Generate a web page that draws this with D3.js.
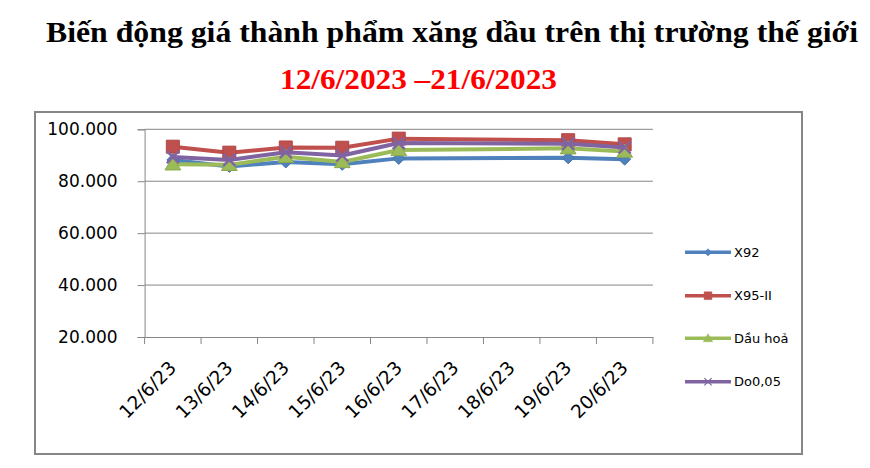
<!DOCTYPE html>
<html><head><meta charset="utf-8">
<script src="https://cdn.jsdelivr.net/npm/d3@7/dist/d3.min.js"></script>
<style>body{margin:0;background:#fff}svg{display:block}</style>
</head><body>
<svg id="c" width="870" height="468"></svg>
<script>
const categories = ["12/6/23","13/6/23","14/6/23","15/6/23","16/6/23","17/6/23","18/6/23","19/6/23","20/6/23"];
const x92   = [88.2, 85.7, 87.4, 86.5, 88.8, null, null, 89.0, 88.5];
const x95   = [93.3, 91.0, 93.0, 92.9, 96.4, null, null, 95.8, 94.2];
const dauHoa= [86.5, 86.3, 89.4, 87.4, 92.0, null, null, 92.7, 91.4];
const do005 = [89.3, 88.2, 91.2, 89.9, 94.7, null, null, 94.4, 93.0];
const yTicks = [20, 40, 60, 80, 100];
const yTickLabels = ["20.000","40.000","60.000","80.000","100.000"];
const seriesNames = ["X92","X95-II","Dầu hoả","Do0,05"];
const title = "Biến động giá thành phẩm xăng dầu trên thị trường thế giới";
const subtitle = "12/6/2023 –21/6/2023";

const series = [
  {name: seriesNames[0], values: x92,    color: "#4F81BD", marker: "diamond"},
  {name: seriesNames[1], values: x95,    color: "#C0504D", marker: "square"},
  {name: seriesNames[2], values: dauHoa, color: "#9BBB59", marker: "triangle"},
  {name: seriesNames[3], values: do005,  color: "#8064A2", marker: "cross"}
];

const svg = d3.select("#c");
const grid = "#868686";
const AX = "DejaVu Sans, sans-serif";

// titles
svg.append("text").attr("x", 46).attr("y", 42)
  .attr("font-family", "Liberation Serif, Times New Roman, serif")
  .attr("font-weight", "bold").attr("font-size", 29)
  .attr("textLength", 812).attr("lengthAdjust", "spacingAndGlyphs")
  .attr("fill", "#000").text(title);
svg.append("text").attr("x", 280).attr("y", 89)
  .attr("font-family", "Liberation Serif, Times New Roman, serif")
  .attr("font-weight", "bold").attr("font-size", 29)
  .attr("textLength", 277).attr("lengthAdjust", "spacingAndGlyphs")
  .attr("fill", "#FF0000").text(subtitle);

// chart border
svg.append("rect").attr("x", 35).attr("y", 112).attr("width", 767).attr("height", 342)
  .attr("fill", "none").attr("stroke", grid).attr("stroke-width", 2);

const x = d3.scaleBand().domain(categories).range([144.6, 652.9]).padding(0);
const y = d3.scaleLinear().domain([20, 100]).range([337, 129.3]);

// gridlines
svg.append("g").selectAll("line").data(yTicks.filter(t => t > 20)).join("line")
  .attr("x1", x.range()[0]).attr("x2", x.range()[1])
  .attr("y1", d => y(d)).attr("y2", d => y(d))
  .attr("stroke", grid).attr("stroke-width", 1);

// y axis
const yAxis = d3.axisLeft(y).tickValues(yTicks).tickSize(7).tickPadding(20)
  .tickFormat((d, i) => yTickLabels[i]);
const gy = svg.append("g").attr("transform", `translate(${x.range()[0]},0)`).call(yAxis);
gy.select(".domain").attr("stroke", grid);
gy.selectAll(".tick line").attr("stroke", grid);
gy.selectAll(".tick text").attr("font-family", AX).attr("font-size", 17).attr("fill", "#000");

// x axis
const xAxis = d3.axisBottom(x).tickSize(0).tickFormat(d => d);
const gx = svg.append("g").attr("transform", `translate(0,${y(20)})`).call(xAxis);
gx.select(".domain").attr("stroke", grid);
gx.selectAll(".tick text")
  .attr("font-family", AX).attr("font-size", 18.5).attr("fill", "#000")
  .attr("text-anchor", "end").attr("dy", 0).attr("y", 0)
  .attr("transform", "translate(4.5,32) rotate(-45)");
// tick marks at band boundaries
const bounds = categories.map(c => x(c)).concat([x.range()[1]]);
gx.append("g").selectAll("line").data(bounds).join("line")
  .attr("x1", d => d).attr("x2", d => d).attr("y1", 0).attr("y2", 7)
  .attr("stroke", grid);

function markerPath(type, r) {
  const p = d3.path();
  if (type === "diamond") {
    p.moveTo(0, -r); p.lineTo(r, 0); p.lineTo(0, r); p.lineTo(-r, 0); p.closePath();
  } else if (type === "square") {
    p.rect(-r, -r, 2 * r, 2 * r);
  } else if (type === "triangle") {
    p.moveTo(0, -r); p.lineTo(r * 1.05, r * 0.75); p.lineTo(-r * 1.05, r * 0.75); p.closePath();
  } else {
    p.moveTo(-r, -r); p.lineTo(r, r); p.moveTo(r, -r); p.lineTo(-r, r);
  }
  return p.toString();
}
const mSize = {diamond: 6, square: 6.5, triangle: 7.5, cross: 6};

const line = d3.line().x(d => x(d.c) + x.bandwidth() / 2).y(d => y(d.v));

series.forEach(s => {
  const pts = categories.map((c, i) => ({c, v: s.values[i]})).filter(d => d.v != null);
  const g = svg.append("g");
  g.append("path").attr("d", line(pts)).attr("fill", "none")
    .attr("stroke", s.color).attr("stroke-width", 4).attr("stroke-linejoin", "round");
  g.selectAll("path.m").data(pts).join("path").attr("class", "m")
    .attr("transform", d => `translate(${x(d.c) + x.bandwidth() / 2},${y(d.v)})`)
    .attr("d", markerPath(s.marker, mSize[s.marker]))
    .attr("fill", s.marker === "cross" ? "none" : s.color)
    .attr("stroke", s.marker === "cross" ? s.color : d3.color(s.color).darker(0.3))
    .attr("stroke-width", s.marker === "cross" ? 2.4 : 1);
});

// legend
const legY = [252.3, 295.7, 338.3, 381.7];
const lg = svg.append("g");
series.forEach((s, i) => {
  const g = lg.append("g").attr("transform", `translate(0,${legY[i]})`);
  g.append("line").attr("x1", 685).attr("x2", 731).attr("y1", 0).attr("y2", 0)
    .attr("stroke", s.color).attr("stroke-width", 3.5);
  g.append("path").attr("transform", "translate(708,0)")
    .attr("d", markerPath(s.marker, mSize[s.marker] * 0.6))
    .attr("fill", s.marker === "cross" ? "none" : s.color)
    .attr("stroke", s.color).attr("stroke-width", s.marker === "cross" ? 1.2 : 0.5);
  g.append("text").attr("x", 734).attr("y", 0).attr("dy", "0.36em")
    .attr("font-family", AX).attr("font-size", 13).attr("fill", "#000").text(s.name);
});
</script>
</body></html>
